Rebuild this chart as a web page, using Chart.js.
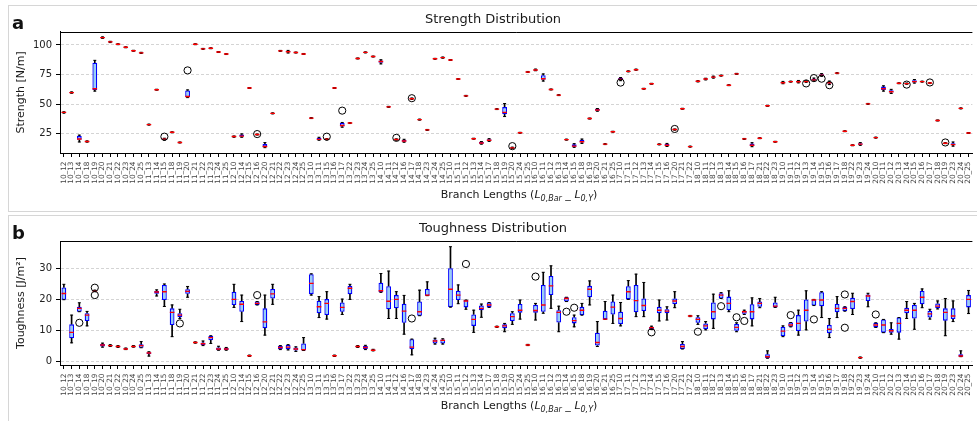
<!DOCTYPE html>
<html>
<head>
<meta charset="utf-8">
<script src="https://cdn.jsdelivr.net/npm/chart.js@4.4.1/dist/chart.umd.min.js"></script>
<style>
html, body { margin: 0; padding: 0; background: #fff; overflow: hidden; width: 977px; height: 421px; }
.panel { position: absolute; left: 8px; width: 1100px; border: 1px solid #d6d6d6; }
#pa { top: 5px; height: 205px; }
#pb { top: 215px; height: 230px; }
.panel canvas { position: absolute; left: 0; top: 0; }
.tag { position: absolute; left: 3px; top: 8px; font: bold 18px "DejaVu Sans"; line-height: 18px; color: #111; }
.xt { position: absolute; left: 51px; width: 918px; text-align: center; font: 11px "DejaVu Sans"; line-height: 14px; color: #1a1a1a; white-space: nowrap; }
.xt sub { font-size: 8px; vertical-align: baseline; position: relative; top: 3px; font-style: italic; }
</style>
</head>
<body>
<div class="panel" id="pa">
  <canvas id="strengthChart" width="968" height="205"></canvas>
  <div class="tag">a</div>
  <div class="xt" style="top:182px">Branch Lengths (<i>L</i><sub>0,Bar</sub> _ <i>L</i><sub>0,Y</sub>)</div>
</div>
<div class="panel" id="pb">
  <canvas id="toughnessChart" width="968" height="205"></canvas>
  <div class="tag">b</div>
  <div class="xt" style="top:183px">Branch Lengths (<i>L</i><sub>0,Bar</sub> _ <i>L</i><sub>0,Y</sub>)</div>
</div>
<script>
// branch length pairs (L0,Bar _ L0,Y)
const labels = [
  '10_12','10_13','10_14','10_18','10_19','10_20','10_21','10_22','10_23','10_24','10_25',
  '11_13','11_14','11_15','11_18','11_19','11_20','11_21','11_22','11_23','11_24','11_25',
  '12_10','12_14','12_15','12_16','12_20','12_21','12_22','12_23','12_24','12_25',
  '13_10','13_11','13_15','13_16','13_17','13_22','13_23','13_24','13_25',
  '14_10','14_11','14_12','14_16','14_17','14_18','14_23','14_24','14_25',
  '15_10','15_11','15_12','15_13','15_14','15_17','15_18','15_19','15_20','15_24','15_25',
  '16_10','16_11','16_12','16_13','16_14','16_15','16_18','16_19','16_20','16_21','16_25',
  '17_10','17_11','17_12','17_13','17_14','17_15','17_16','17_20','17_21','17_22',
  '18_10','18_11','18_12','18_13','18_14','18_15','18_16','18_17','18_21','18_22','18_23',
  '19_10','19_11','19_12','19_13','19_14','19_15','19_16','19_17','19_18','19_22','19_23','19_24',
  '20_10','20_11','20_12','20_13','20_14','20_15','20_16','20_17','20_18','20_19','20_23','20_24','20_25'
];

// strength [N/m]: [whisker low, q1, median, q3, whisker high]
const strengthStats = [
  [42.4,42.7,43.0,43.3,43.5], [59.2,59.5,59.7,60.0,60.3], [18.0,19.8,20.5,23.0,23.8], [17.9,18.1,18.4,18.7,18.9],
  [61.0,62.0,63.0,85.0,87.0], [105.6,105.9,106.2,106.5,106.8], [102.0,102.3,102.6,102.9,103.1], [100.2,100.4,100.6,100.8,101.0],
  [97.6,97.8,98.0,98.2,98.4], [94.7,94.9,95.1,95.3,95.5], [92.8,93.0,93.3,93.6,93.8], [32.3,32.5,32.7,32.9,33.1],
  [61.8,62.0,62.2,62.4,62.6], [19.5,20.0,20.4,20.9,21.2], [25.8,26.0,26.2,26.4,26.6], [17.2,17.4,17.6,17.8,18.0],
  [55.5,56.0,56.5,61.5,62.0], [100.2,100.4,100.6,100.8,101.0], [96.3,96.5,96.7,96.9,97.1], [96.8,97.0,97.2,97.4,97.6],
  [93.6,93.8,94.0,94.2,94.4], [91.9,92.1,92.3,92.5,92.7], [22.0,22.3,22.6,22.9,23.1], [22.0,22.6,23.0,24.3,24.8],
  [63.2,63.4,63.6,63.8,64.0], [23.9,24.1,24.3,24.5,24.7], [13.2,13.8,14.2,16.2,17.5], [41.8,42.0,42.2,42.4,42.6],
  [94.6,94.8,95.0,95.2,95.4], [93.2,93.9,94.3,94.9,95.4], [93.2,93.4,93.6,93.8,94.0], [92.0,92.2,92.4,92.6,92.8],
  [37.8,38.0,38.2,38.4,38.6], [19.5,19.8,20.2,21.5,22.0], [19.8,20.0,20.3,20.6,20.8], [63.2,63.4,63.6,63.8,64.0],
  [30.5,31.0,32.0,34.0,34.5], [33.6,33.8,34.0,34.2,34.4], [88.2,88.4,88.6,88.8,89.0], [93.3,93.5,93.7,93.9,94.1],
  [89.8,90.0,90.2,90.4,90.6], [84.0,85.0,86.0,86.8,87.5], [47.3,47.5,47.7,47.9,48.1], [19.6,19.8,20.1,20.4,20.6],
  [17.8,18.3,18.8,19.8,20.3], [54.0,54.3,54.6,54.9,55.2], [36.5,36.7,36.9,37.1,37.3], [27.8,28.0,28.2,28.4,28.6],
  [87.9,88.1,88.3,88.5,88.7], [88.8,89.0,89.3,89.6,89.8], [86.9,87.1,87.3,87.5,87.7], [70.8,71.0,71.2,71.4,71.6],
  [56.6,56.8,57.0,57.2,57.4], [20.4,20.6,20.8,21.0,21.2], [16.2,16.6,17.2,18.0,18.4], [18.5,19.0,19.5,20.3,20.8],
  [45.4,45.6,45.8,46.0,46.2], [39.5,41.5,43.0,47.5,50.5], [12.6,12.8,13.0,13.3,13.6], [25.4,25.6,25.8,26.0,26.2],
  [76.8,77.0,77.2,77.4,77.6], [78.2,78.5,78.8,79.3,79.6], [69.5,70.5,71.5,74.5,75.5], [62.0,62.2,62.4,62.6,62.8],
  [57.2,57.4,57.6,57.8,58.0], [19.6,19.8,20.0,20.2,20.4], [13.5,14.0,14.5,16.0,16.6], [16.8,17.5,18.2,19.8,20.5],
  [37.4,37.6,37.8,38.0,38.2], [44.0,44.5,45.0,46.0,46.3], [15.8,16.0,16.2,16.4,16.6], [26.3,26.5,26.7,26.9,27.1],
  [69.8,70.3,71.0,72.0,72.5], [77.3,77.5,77.7,77.9,78.1], [78.6,78.8,79.0,79.3,79.6], [62.6,62.8,63.0,63.2,63.4],
  [66.8,67.0,67.2,67.4,67.6], [15.6,15.8,16.0,16.2,16.4], [14.2,14.8,15.3,16.3,16.8], [28.0,28.2,28.5,28.8,29.0],
  [45.7,45.9,46.1,46.3,46.5], [13.7,13.9,14.1,14.3,14.5], [68.8,69.0,69.3,69.6,69.8], [70.5,70.8,71.2,71.6,71.9],
  [72.0,72.4,72.8,73.2,73.6], [73.7,73.9,74.1,74.3,74.5], [65.6,65.8,66.0,66.2,66.4], [75.2,75.4,75.6,75.8,76.0],
  [20.2,20.4,20.6,20.8,21.0], [14.0,14.6,15.2,16.8,17.4], [20.8,21.0,21.2,21.4,21.6], [48.2,48.4,48.6,48.8,49.0],
  [17.8,18.0,18.2,18.4,18.6], [67.2,67.6,68.0,68.8,69.2], [68.6,68.8,69.0,69.2,69.4], [68.0,68.4,68.9,69.6,70.0],
  [68.4,68.7,69.0,69.3,69.6], [69.6,70.0,70.5,71.5,72.0], [73.5,74.0,74.5,75.3,75.8], [66.5,67.5,68.0,69.0,69.5],
  [75.8,76.0,76.2,76.4,76.6], [26.7,26.9,27.1,27.3,27.5], [14.8,15.0,15.2,15.4,15.6], [15.2,15.6,16.2,17.0,17.5],
  [49.8,50.0,50.2,50.4,50.6], [21.3,21.5,21.7,21.9,22.1], [61.0,62.0,63.0,64.8,65.5], [59.0,59.8,60.5,61.8,62.5],
  [67.2,67.4,67.6,67.8,68.0], [66.8,67.0,67.3,67.6,67.8], [67.8,68.3,69.0,70.2,70.8], [68.6,68.8,69.0,69.2,69.4],
  [67.4,67.6,67.8,68.0,68.2], [35.8,36.0,36.2,36.4,36.6], [16.6,16.8,17.0,17.2,17.4], [14.5,15.2,15.8,17.0,18.0],
  [46.0,46.2,46.4,46.6,46.8], [25.2,25.4,25.6,25.8,26.0]
];
// strength outliers: [category index, value]
const strengthOutliers = [
  [13,22.5], [16,78.5], [25,24.7], [34,22.5], [36,44.5], [43,21.5], [45,55.0], [58,14.5],
  [72,68.2], [79,29.0], [96,67.5], [97,72.0], [98,71.5], [99,66.0], [109,66.5], [112,68.3], [114,17.6]
];
const strengthTicks = [25, 50, 75, 100];

// toughness [J/m^2]: [whisker low, q1, median, q3, whisker high]
const toughnessStats = [
  [20,20,22,24,25], [6,7.5,9.4,12,15], [16.1,16.1,17.2,17.7,19], [11.5,13.1,15,15.6,16.2],
  [22.6,22.7,22.8,23.0,23.1], [4.6,4.8,5.3,5.6,5.9], [4.8,4.9,5.1,5.3,5.4], [4.5,4.6,4.8,5.0,5.1],
  [3.8,3.9,4.0,4.2,4.3], [4.6,4.7,4.8,5.0,5.1], [4.4,4.4,5.1,5.5,6.4], [1.7,2.3,2.7,2.9,3.1],
  [21.2,21.9,22.5,22.8,23.2], [17.8,19.9,22.6,24.8,25.1], [8,11.8,15.9,17.2,18.3], [13.9,14.3,15,15.6,16.9],
  [20.8,21.9,22.7,23.4,24.3], [5.9,6.0,6.1,6.2,6.3], [5.1,5.3,5.7,6.1,6.6], [5.8,6.8,7.7,8.2,8.3],
  [3.6,3.6,4.0,4.5,4.9], [3.6,3.7,4.0,4.3,4.5], [17.5,18.3,20.1,22.6,25], [12.9,16.1,18.5,19.6,21.5],
  [1.6,1.7,1.8,1.9,2.0], [18.3,18.3,18.8,19.4,19.4], [8.5,10.7,12.8,17.2,21.5], [18.5,20.4,21.9,23.5,25],
  [3.8,3.9,4.5,5.0,5.1], [3.7,3.9,4.6,5.3,5.4], [3.2,3.5,4.0,4.5,4.7], [3.5,3.5,3.8,5.8,7.7],
  [21.5,21.8,25.3,28.3,28.4], [14.2,15.6,17.7,19.7,21], [13.7,15,18.8,20.2,22.6], [1.6,1.7,1.8,1.9,2.0],
  [15.2,16.1,17.5,19.1,20.2], [20.1,21.8,23.7,24.5,25], [4.5,4.6,4.8,5.0,5.1], [3.8,4.0,4.5,5.0,5.2],
  [3.4,3.5,3.6,3.8,3.9], [22.4,22.4,22.9,25.5,28.5], [13.9,16.9,19.5,24.4,29.3], [13.9,17.2,20.1,21.5,22.6],
  [8.8,12.5,16.3,18.7,21.4], [2.1,3.9,4.6,7.2,7.2], [14.8,14.8,16.1,19.4,23.1], [21.3,21.3,21.5,23.5,25.8],
  [5.6,5.8,6.6,7.1,7.5], [5.6,5.8,6.8,7.1,7.3], [17.6,17.6,23.4,30.2,37.2], [18.7,19.9,21.5,22.9,24.8],
  [16.9,17.5,19.6,19.9,19.9], [9.4,11.5,13.6,15.2,16.6], [14.3,16.6,17.2,18.1,18.6], [17.5,17.5,18.3,19.1,19.1],
  [11.0,11.1,11.2,11.3,11.4], [9.6,10.7,11.5,12.0,12.3], [12,13.1,14.5,15.6,16.1], [13.7,15.8,16.6,18.6,19.9],
  [5.1,5.2,5.3,5.4,5.5], [13.4,15.8,16.5,18.3,18.8], [15.6,16.1,18.3,24.8,28.9], [17.2,21.5,24.5,27.7,31],
  [9.6,12.6,15.9,16.6,17.9], [19.4,19.4,20.4,20.8,20.8], [11.2,12.3,13.2,14.3,15], [15,15,16.6,17.7,18.8],
  [18.3,20.8,23.4,24.5,26.1], [4.8,5.1,6.1,9.3,12.9], [13.6,13.6,13.7,16.4,19.4], [12.3,15.2,17.6,19.4,21.5],
  [11.5,12.1,13.9,16.1,19.1], [20.1,20.1,22.6,24.4,26.2], [14.5,15.9,19.7,24.8,28.3], [14.5,16.3,18.1,20.4,25.6],
  [10.3,10.5,10.9,11.2,11.4], [13.1,15.6,16.6,17.7,19.9], [13.4,15.6,16.3,16.9,17.7], [17.4,18.6,19.6,20.4,22.6],
  [4.0,4.0,4.8,5.6,6.4], [14.5,14.6,14.7,14.8,14.9], [12.0,12.5,13.6,14.3,14.8], [10.2,10.5,11.5,12.3,12.9],
  [10.7,13.6,16.1,19.1,21.8], [20.4,20.4,21.5,22.1,22.3], [16.1,16.6,18.8,21,22.9], [9.6,9.9,11.0,12.1,12.5],
  [15.2,15.4,16.1,16.4,16.6], [11.5,13.6,16.1,18.5,20.6], [17.4,17.7,18.8,19.4,20.4], [1.0,1.0,1.5,2.3,3.4],
  [17.5,17.5,17.9,19.1,20.8], [8.0,8.2,9.8,11.2,11.5], [11.2,11.2,11.8,12.6,12.6], [8.5,9.8,12.3,15,16.6],
  [10.2,12.9,16.6,20.1,22.9], [18.1,18.1,19.9,20.1,20.1], [14.2,17.9,19.9,22.4,22.6], [7.7,9.1,10.4,11.8,13.9],
  [14.2,15.9,17.2,18.6,21], [16.3,16.3,17.2,17.7,17.7], [15.2,17,19.4,20.6,22.1], [1.0,1.1,1.2,1.3,1.4],
  [17.7,19.6,21.2,21.7,22.1], [11.0,11.0,11.8,12.5,12.5], [9.3,9.3,11.8,13.6,13.6], [8.8,9.3,9.9,10.5,12.5],
  [7.2,9.3,12.3,14.2,14.2], [13.9,15.6,16.6,17.4,19.4], [10.4,13.9,16.6,18.3,18.8], [17.4,18.5,20.8,22.9,23.5],
  [13.7,14.2,15.4,16.4,16.9], [17.0,17.2,17.9,18.8,19.6], [8.3,13.2,15.9,17.2,20.4], [12.9,13.7,14.7,17.2,19.6],
  [1.5,1.5,1.7,2.3,3.4], [15.5,17.5,20.1,21.5,23]
];
const toughnessOutliers = [
  [2,12.5], [4,23.9], [4,21.5], [15,12.3], [25,21.5], [45,13.9], [52,31.6], [61,27.5],
  [65,16.1], [66,17.4], [76,9.4], [82,9.6], [85,17.9], [87,14.3], [88,13.1], [94,15.0],
  [97,13.6], [101,21.7], [101,10.9], [105,15.2]
];
const toughnessTicks = [0, 10, 20, 30];

const FONT = 'DejaVu Sans';

// top border of the axes frame (matplotlib draws all four spines)
const framePlugin = {
    id: 'frame',
    afterDraw(chart) {
        const { ctx, chartArea } = chart;
        ctx.save();
        ctx.strokeStyle = '#000';
        ctx.lineWidth = 1;
        ctx.beginPath();
        ctx.moveTo(chartArea.left, Math.round(chartArea.top) + 0.5);
        ctx.lineTo(chartArea.right, Math.round(chartArea.top) + 0.5);
        ctx.stroke();
        ctx.restore();
    }
};

function buildBoxChart(canvasId, cfg) {
    const stats = cfg.stats;
    const outlierPoints = cfg.outliers.map(o => ({ x: labels[o[0]], y: o[1] }));

    const pointSet = (data, style, radius, color, width, order) => ({
        type: 'line',
        data: data,
        showLine: false,
        pointStyle: style,
        pointRadius: radius,
        pointHoverRadius: radius,
        pointBorderColor: color,
        pointBackgroundColor: 'rgba(0,0,0,0)',
        pointBorderWidth: width,
        order: order
    });

    new Chart(document.getElementById(canvasId), {
        type: 'bar',
        data: {
            labels: labels,
            datasets: [
                pointSet(outlierPoints, 'circle', 3.6, '#000', 1, 0),
                pointSet(stats.map(s => s[2]), 'line', 2.3, '#ff0000', 1.4, 1),
                pointSet(stats.map(s => s[0]), 'line', 1.5, '#000', 1, 2),
                pointSet(stats.map(s => s[4]), 'line', 1.5, '#000', 1, 2),
                {
                    // the box itself, q1 to q3
                    data: stats.map(s => [s[1], s[3]]),
                    backgroundColor: '#96cff4',
                    borderColor: '#0000ff',
                    borderWidth: 1.3,
                    borderSkipped: false,
                    barPercentage: 0.62,
                    categoryPercentage: 1,
                    grouped: false,
                    order: 3
                },
                {
                    // lower whisker
                    data: stats.map(s => [s[0], s[1]]),
                    backgroundColor: '#000',
                    barThickness: 1,
                    grouped: false,
                    order: 4
                },
                {
                    // upper whisker
                    data: stats.map(s => [s[3], s[4]]),
                    backgroundColor: '#000',
                    barThickness: 1,
                    grouped: false,
                    order: 4
                }
            ]
        },
        options: {
            responsive: false,
            animation: false,
            events: [],
            layout: { padding: 0 },
            plugins: {
                legend: { display: false },
                tooltip: { enabled: false },
                title: {
                    display: true,
                    text: cfg.title,
                    color: '#1a1a1a',
                    font: { family: FONT, size: 13, weight: 'normal' },
                    padding: cfg.titlePadding
                }
            },
            scales: {
                x: {
                    type: 'category',
                    offset: true,
                    grid: {
                        display: true,
                        drawOnChartArea: false,
                        drawTicks: true,
                        tickLength: 4,
                        tickColor: '#000',
                        offset: false
                    },
                    border: { display: true, color: '#000', width: 1 },
                    ticks: {
                        autoSkip: false,
                        minRotation: 90,
                        maxRotation: 90,
                        padding: 4.5,
                        color: '#444',
                        font: { family: FONT, size: 7.3 }
                    },
                    afterFit: scale => {
                        scale.paddingLeft = 0;
                        scale.paddingRight = 0;
                        scale.height = cfg.xHeight;
                    }
                },
                y: {
                    type: 'linear',
                    min: cfg.min,
                    max: cfg.max,
                    afterBuildTicks: scale => {
                        scale.ticks = cfg.ticks.map(v => ({ value: v }));
                    },
                    grid: {
                        color: 'rgba(0,0,0,0.17)',
                        lineWidth: 1,
                        tickColor: '#000',
                        tickLength: 4
                    },
                    border: { display: true, color: '#000', width: 1, dash: [3, 2] },
                    ticks: {
                        padding: 4,
                        color: '#222',
                        font: { family: FONT, size: 10 }
                    },
                    title: {
                        display: true,
                        text: cfg.yTitle,
                        color: '#1a1a1a',
                        font: { family: FONT, size: 11 },
                        padding: { top: 6, bottom: 0 }
                    },
                    afterFit: scale => {
                        scale.width = 51;
                    }
                }
            }
        },
        plugins: [framePlugin]
    });
}

buildBoxChart('strengthChart', {
    stats: strengthStats,
    outliers: strengthOutliers,
    ticks: strengthTicks,
    title: 'Strength Distribution',
    yTitle: 'Strength [N/m]',
    min: 8.7,
    max: 111.2,
    titlePadding: { top: 6, bottom: 4.1 },
    xHeight: 58
});

buildBoxChart('toughnessChart', {
    stats: toughnessStats,
    outliers: toughnessOutliers,
    ticks: toughnessTicks,
    title: 'Toughness Distribution',
    yTitle: 'Toughness [J/m²]',
    min: -1.2,
    max: 39.06,
    titlePadding: { top: 5.2, bottom: 4.2 },
    xHeight: 56
});
</script>
</body>
</html>
